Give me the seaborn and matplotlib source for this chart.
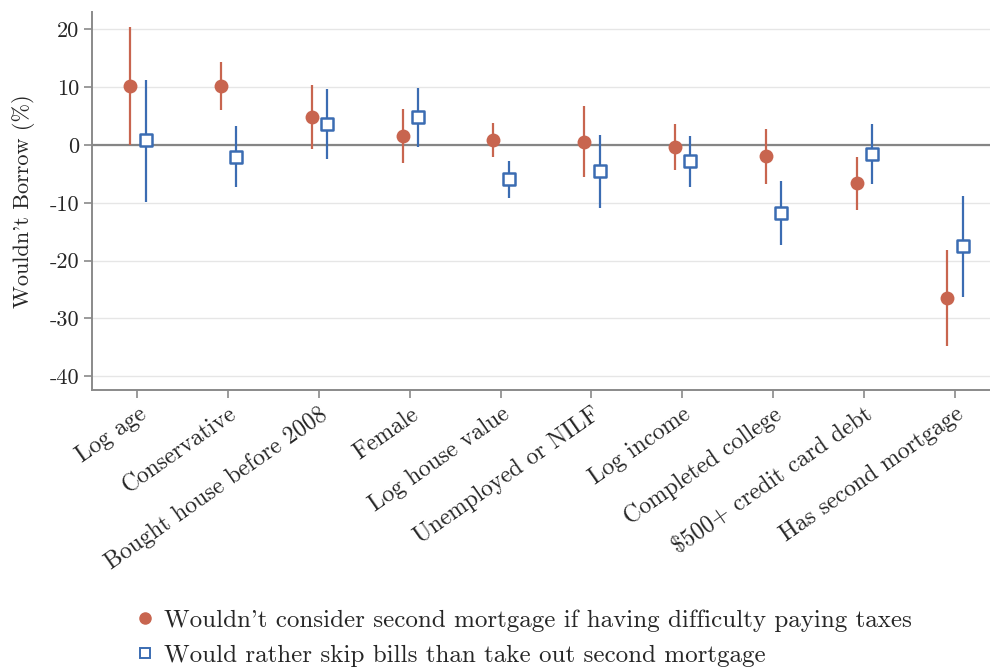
import numpy as np
import pandas as pd
import matplotlib
matplotlib.use("Agg")
import matplotlib.pyplot as plt
import seaborn as sns

# Data
categories = ["Log age", "Conservative", "Bought house before 2008", "Female",
              "Log house value", "Unemployed or NILF", "Log income",
              "Completed college", "$500+ credit card debt", "Has second mortgage"]

consider_est = [10.2, 10.2, 4.8, 1.5, 0.9, 0.5, -0.4, -1.9, -6.6, -26.4]
consider_lo = [0.0, 6.0, -0.7, -3.1, -2.1, -5.6, -4.3, -6.7, -11.25, -34.7]
consider_hi = [20.45, 14.4, 10.3, 6.2, 3.85, 6.7, 3.6, 2.7, -2.0, -18.2]

skip_est = [0.8, -2.0, 3.7, 4.8, -5.8, -4.5, -2.8, -11.7, -1.5, -17.45]
skip_lo = [-9.8, -7.3, -2.5, -0.4, -9.1, -10.9, -7.2, -17.3, -6.7, -26.3]
skip_hi = [11.2, 3.3, 9.6, 9.9, -2.7, 1.8, 1.5, -6.3, 3.6, -8.8]

series = ["Wouldn't consider second mortgage if having difficulty paying taxes",
          "Would rather skip bills than take out second mortgage"]
y_ticks = [20, 10, 0, -10, -20, -30, -40]

red = "#c8654f"
blue = "#3b6cb2"

sns.set_theme(style="white")
plt.rcParams["font.family"] = ["cmr10", "DejaVu Serif"]
plt.rcParams["axes.unicode_minus"] = False
plt.rcParams["mathtext.fontset"] = "cm"

pos = np.arange(len(categories))
df = pd.concat([
    pd.DataFrame({"x": pos - 0.08, "est": consider_est, "lo": consider_lo,
                  "hi": consider_hi, "series": series[0]}),
    pd.DataFrame({"x": pos + 0.09, "est": skip_est, "lo": skip_lo,
                  "hi": skip_hi, "series": series[1]}),
])

fig = plt.figure(figsize=(9.9, 6.68), dpi=100)
ax = fig.add_axes([0.093, 0.416, 0.907, 0.566])

for y in y_ticks:
    ax.axhline(y, color="#e6e6e6", lw=1, zorder=0)
ax.axhline(0, color="#858585", lw=1.6, zorder=1)

colors = {series[0]: red, series[1]: blue}
for s, g in df.groupby("series"):
    ax.vlines(g["x"], g["lo"], g["hi"], color=colors[s], lw=1.6, zorder=2)

red_df = df[df["series"] == series[0]]
blue_df = df[df["series"] == series[1]]
sns.scatterplot(data=red_df, x="x", y="est", color=red, marker="o", s=100,
                edgecolor=red, linewidth=0, zorder=3, ax=ax, legend=False)
sns.scatterplot(data=blue_df, x="x", y="est", color="white", marker="s", s=85,
                edgecolor=blue, linewidth=1.8, zorder=3, ax=ax, legend=False)

ax.set_xlim(-0.5, 9.39)
ax.set_ylim(-42.4, 23)
ax.set_yticks(y_ticks)
ax.set_yticklabels([str(v) for v in y_ticks], fontsize=16)
ax.set_xticks(pos)
ax.set_xticklabels(categories, rotation=35, ha="right", va="top",
                   rotation_mode="anchor", fontsize=17)
ax.set_xlabel("")
ax.set_ylabel("Wouldn't Borrow (%)", fontsize=16, labelpad=10)

for side in ["top", "right"]:
    ax.spines[side].set_visible(False)
for side in ["left", "bottom"]:
    ax.spines[side].set_color("#8a8a8a")
    ax.spines[side].set_linewidth(1.4)
ax.tick_params(axis="both", which="both", direction="out", length=6,
               width=1.2, color="#8a8a8a", left=True, bottom=True)

handles = [
    plt.Line2D([], [], marker="o", ls="", color=red, markersize=8),
    plt.Line2D([], [], marker="s", ls="", markerfacecolor="white",
               markeredgecolor=blue, markeredgewidth=1.4, markersize=7),
]
fig.legend(handles, series, loc="lower left", bbox_to_anchor=(0.111, -0.032),
           frameon=False, fontsize=18, handletextpad=0.25, labelspacing=0.5,
           handlelength=1.0)

fig.savefig("out.png", dpi=100)
